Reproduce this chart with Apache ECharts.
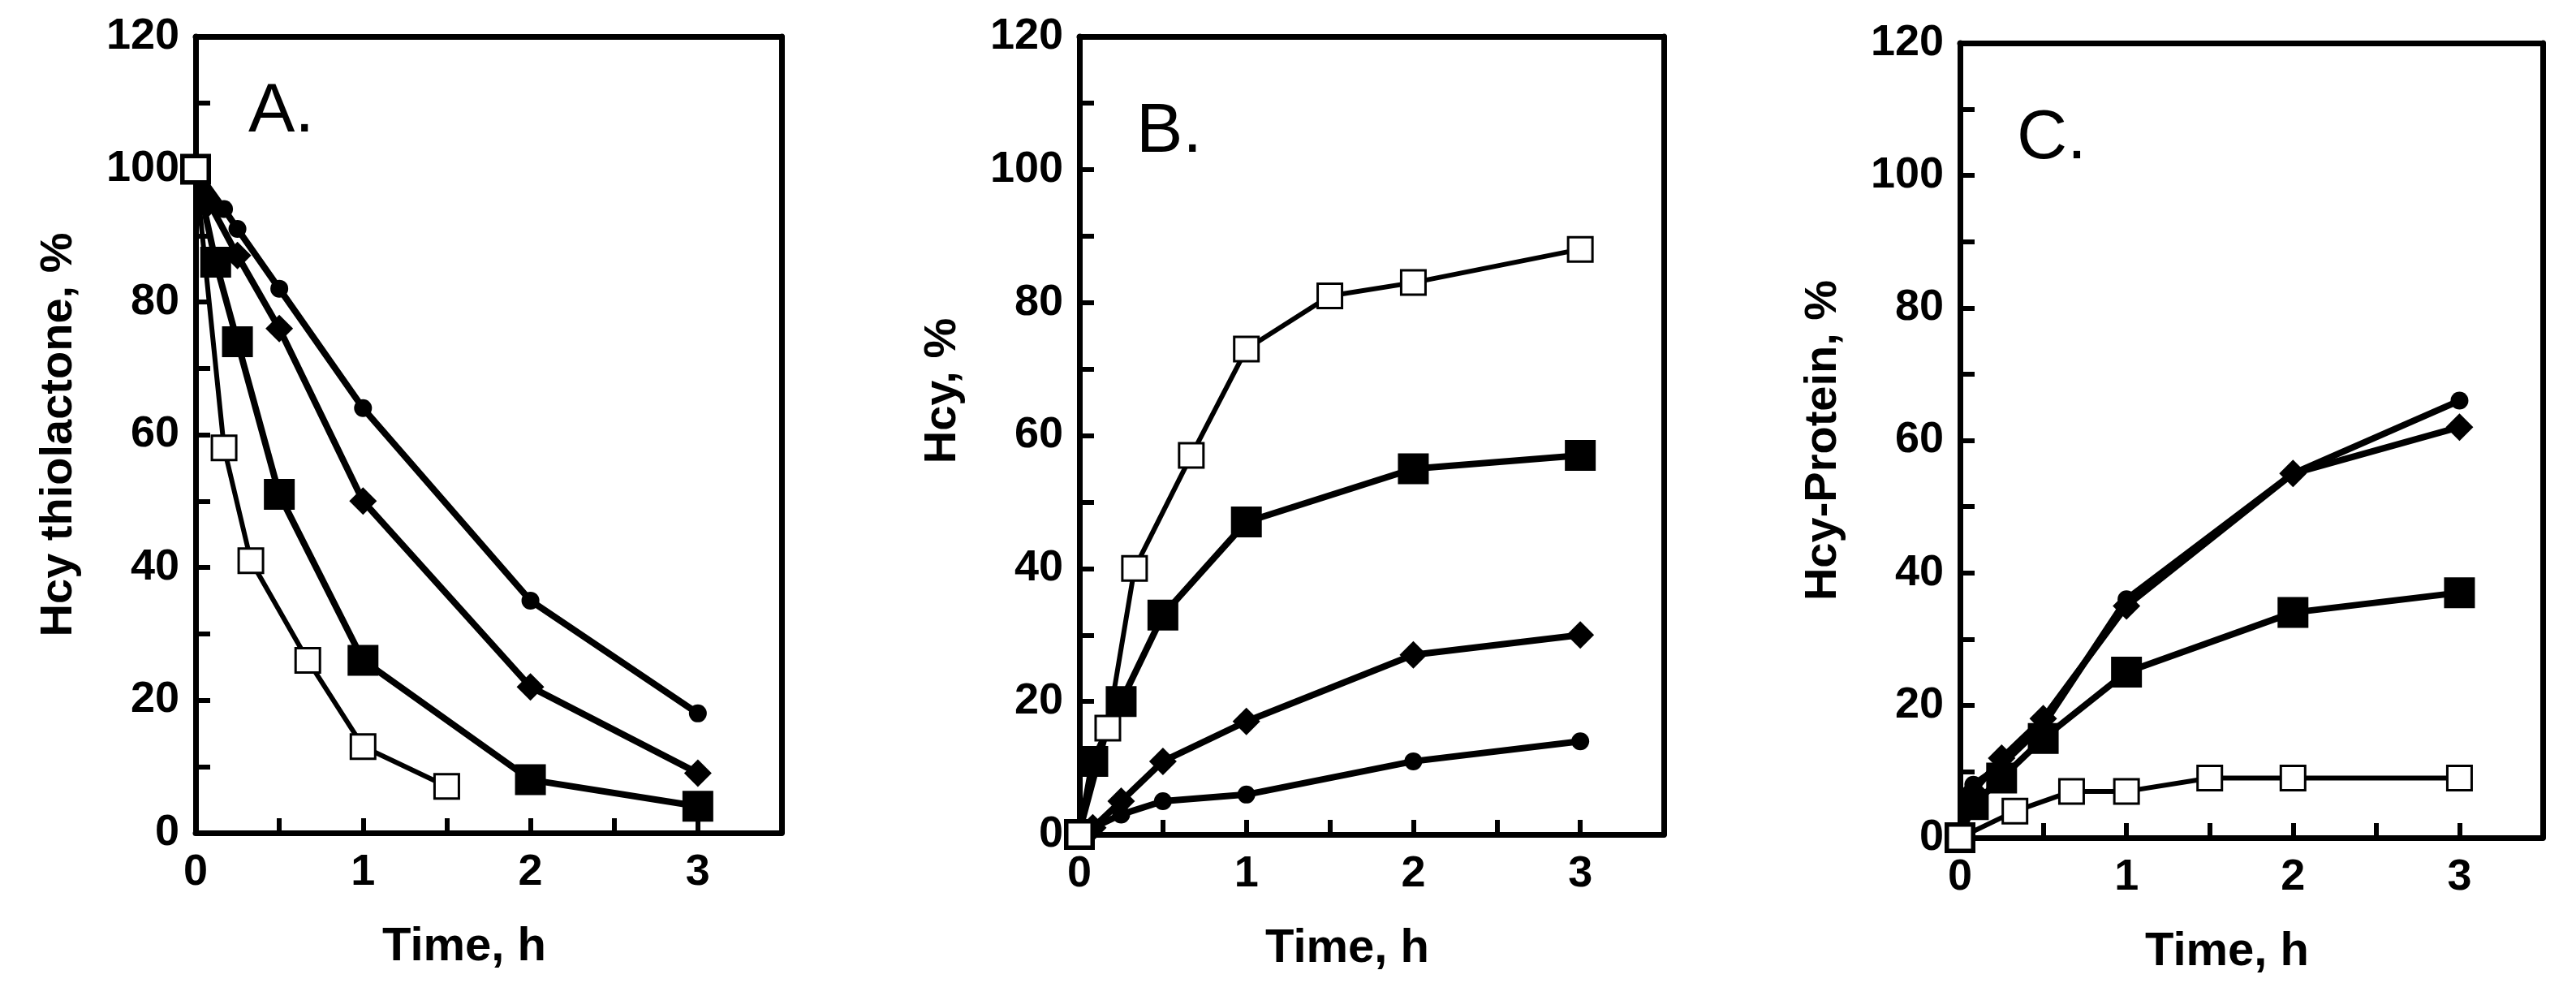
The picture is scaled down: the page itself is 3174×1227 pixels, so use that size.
<!DOCTYPE html>
<html><head><meta charset="utf-8">
<script src="https://cdn.jsdelivr.net/npm/echarts@6/dist/echarts.min.js"></script>
<style>html,body{margin:0;background:#fff}#c{width:3174px;height:1227px}</style>
</head><body><div id="c"></div>
<script>
// Panel A: Hcy thiolactone, %
const A_openSq = [[0,100],[0.17,58],[0.33,41],[0.67,26],[1,13],[1.5,7]];
const A_fillSq = [[0,100],[0.12,86],[0.25,74],[0.5,51],[1,26],[2,8],[3,4]];
const A_diamond = [[0,100],[0.08,95],[0.25,87],[0.5,76],[1,50],[2,22],[3,9]];
const A_circle = [[0,100],[0.17,94],[0.25,91],[0.5,82],[1,64],[2,35],[3,18]];
// Panel B: Hcy, %
const B_openSq = [[0,0],[0.17,16],[0.33,40],[0.67,57],[1,73],[1.5,81],[2,83],[3,88]];
const B_fillSq = [[0,0],[0.08,11],[0.25,20],[0.5,33],[1,47],[2,55],[3,57]];
const B_diamond = [[0,0],[0.08,1],[0.25,5],[0.5,11],[1,17],[2,27],[3,30]];
const B_circle = [[0,0],[0.08,1],[0.25,3],[0.5,5],[1,6],[2,11],[3,14]];
// Panel C: Hcy-Protein, %
const C_openSq = [[0,0],[0.33,4],[0.67,7],[1,7],[1.5,9],[2,9],[3,9]];
const C_fillSq = [[0,0],[0.08,5],[0.25,9],[0.5,15],[1,25],[2,34],[3,37]];
const C_diamond = [[0,0],[0.08,7],[0.25,12],[0.5,18],[1,35],[2,55],[3,62]];
const C_circle = [[0,0],[0.08,8],[0.25,11],[0.5,17],[1,36],[2,55],[3,66]];

const yNames = ['Hcy thiolactone, %','Hcy, %','Hcy-Protein, %'];
const xName = 'Time, h';
const letters = ['A.','B.','C.'];

const grids = [
  {left:241, top:45, width:722, height:981},
  {left:1330, top:45, width:720, height:983},
  {left:2415, top:53, width:718, height:979}
];
const FF = 'Liberation Sans, Arial, sans-serif';
const xAxes = [], yAxes = [], series = [], titles = [];
const sets = [[A_openSq,A_fillSq,A_diamond,A_circle],[B_openSq,B_fillSq,B_diamond,B_circle],[C_openSq,C_fillSq,C_diamond,C_circle]];
const yPad = [[0,0,0,0],[0,0,0,110],[0,0,0,0]];
const line = {show:true, onZero:false, lineStyle:{color:'#000', width:7}};
const tickOnly = {axisLine:{show:true, onZero:false, lineStyle:{color:'rgba(0,0,0,0)', width:1}},
  axisLabel:{show:false}, splitLine:{show:false},
  axisTick:{show:true, inside:false, length:18, lineStyle:{width:6, color:'#000'}},
  minorTick:{show:true, splitNumber:2, length:18, lineStyle:{width:6, color:'#000'}}};
grids.forEach((g,i)=>{
  g.show = false;
  xAxes.push({gridIndex:i, type:'value', min:0, max:3.5, interval:1,
    name:xName, nameLocation:'middle', nameGap:112,
    nameTextStyle:{fontFamily:FF, fontWeight:900, fontSize:58, color:'#000', padding:[0,60,0,0]},
    axisLine:line, axisTick:{show:false},
    axisLabel:{fontFamily:FF, fontWeight:900, fontSize:54, color:'#000', margin:22,
      formatter:v=> v<=3 ? String(v) : ''},
    splitLine:{show:false}});
  xAxes.push({gridIndex:i, type:'value', position:'top', min:0, max:3.5, axisLine:line,
    axisTick:{show:false}, axisLabel:{show:false}, splitLine:{show:false}});
  xAxes.push(Object.assign({gridIndex:i, type:'value', position:'bottom', offset:-18, min:0, max:3.5, interval:1}, tickOnly));
  yAxes.push({gridIndex:i, type:'value', min:0, max:120, interval:20,
    name:yNames[i], nameLocation:'middle', nameGap:140,
    nameTextStyle:{fontFamily:FF, fontWeight:900, fontSize:56, color:'#000', padding:yPad[i]},
    axisLine:line, axisTick:{show:false},
    axisLabel:{fontFamily:FF, fontWeight:900, fontSize:54, color:'#000', margin:20},
    splitLine:{show:false}});
  yAxes.push({gridIndex:i, type:'value', position:'right', min:0, max:120, axisLine:line,
    axisTick:{show:false}, axisLabel:{show:false}, splitLine:{show:false}});
  yAxes.push(Object.assign({gridIndex:i, type:'value', position:'left', offset:-18, min:0, max:120, interval:20}, tickOnly));
  titles.push({text:letters[i], left:g.left+(i===0?60:65), top:g.top+(i===0?45:70),
    textStyle:{fontFamily:FF, fontWeight:'normal', fontSize:86, color:'#000'}});
  const [os,fs,dm,ci] = sets[i];
  const base = {type:'line', xAxisIndex:3*i, yAxisIndex:3*i, smooth:false, z:3};
  series.push(Object.assign({}, base, {data:ci, symbol:'circle', symbolSize:22,
    lineStyle:{color:'#000', width:8}, itemStyle:{color:'#000'}}));
  series.push(Object.assign({}, base, {data:dm, symbol:'diamond', symbolSize:[34,34],
    lineStyle:{color:'#000', width:8}, itemStyle:{color:'#000'}}));
  series.push(Object.assign({}, base, {data:fs, symbol:'rect', symbolSize:38,
    lineStyle:{color:'#000', width:8}, itemStyle:{color:'#000'}}));
  series.push(Object.assign({}, base, {data:os, symbol:'rect', symbolSize:30,
    lineStyle:{color:'#000', width:6}, itemStyle:{color:'#fff', borderColor:'#000', borderWidth:3}}));
});
const chart = echarts.init(document.getElementById('c'));
chart.setOption({backgroundColor:'#fff', animation:false, title:titles, grid:grids, xAxis:xAxes, yAxis:yAxes, series});
</script></body></html>
